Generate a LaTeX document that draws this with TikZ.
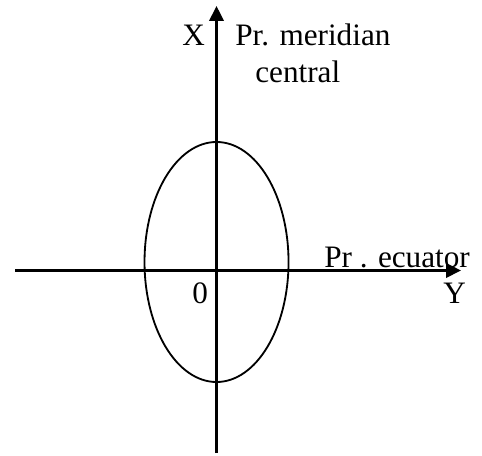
\documentclass[tikz,border=0pt]{standalone}
\usepackage{fontspec}
\setmainfont{Liberation Serif}
\usetikzlibrary{arrows.meta}
\tikzset{
  axis/.style={line width=1.9pt, -{Triangle[length=0.375cm, width=0.36cm]}},
  label/.style={inner sep=0pt, anchor=base west, font=\fontsize{22.2}{26}\selectfont}
}

\begin{document}
\begin{tikzpicture}
\useasboundingbox (0.000,0.000) rectangle (12.050,11.375);
\coordinate (origin) at (5.413,4.613);
\coordinate (south) at (5.413,0.050);
\coordinate (north) at (5.413,11.225);
\coordinate (west) at (0.375,4.613);
\coordinate (east) at (11.525,4.613);
\draw[axis] (south) -- (north);
\draw[axis] (west) -- (east);
\draw[line width=1.3pt] (5.413,4.825) ellipse (1.800 and 3.000);
\node[label] (xlab) at (4.550,10.225) {X};
\node[label] (meridian) at (5.875,10.225) {Pr. meridian};
\node[label] (central) at (6.375,9.300) {central};
\node[label] (ecuator) at (8.100,4.700) {Pr . ecuator};
\node[label] (ylab) at (11.075,3.800) {Y};
\node[label] (zero) at (4.800,3.800) {0};
\end{tikzpicture}
\end{document}
